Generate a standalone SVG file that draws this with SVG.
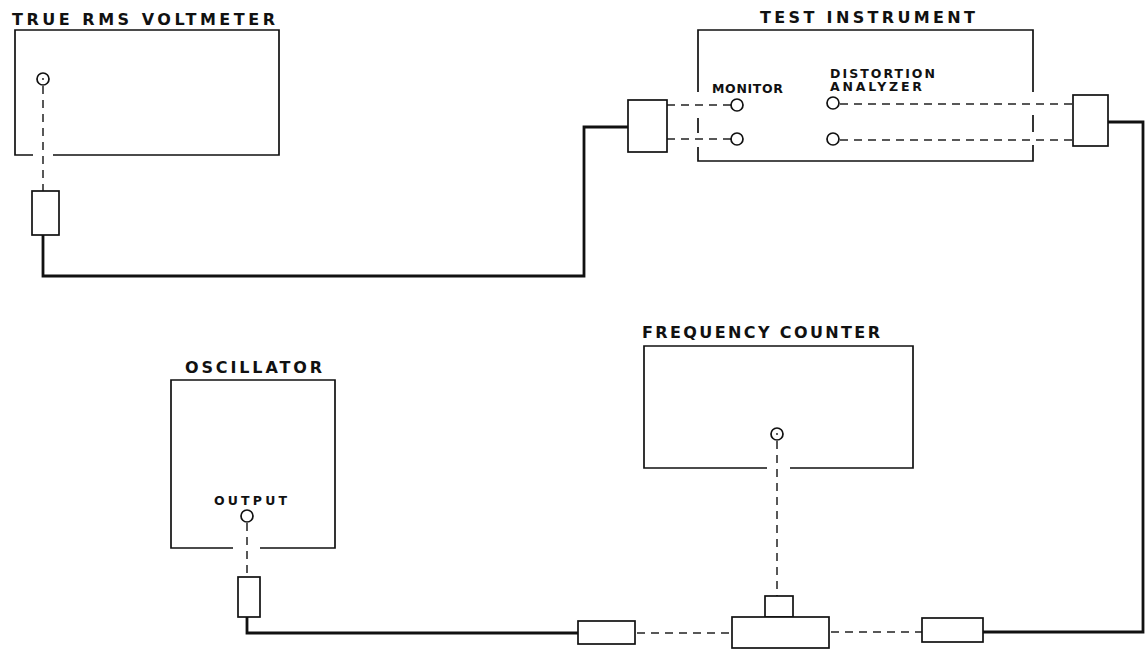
<svg xmlns="http://www.w3.org/2000/svg" width="1146" height="650" viewBox="0 0 1146 650">
<style>
.box{fill:none;stroke:#111;stroke-width:1.7}
.part{fill:#fff;stroke:#111;stroke-width:1.7}
.jack{fill:#fff;stroke:#111;stroke-width:1.7}
.cable{fill:none;stroke:#111;stroke-width:2.8}
.dash{fill:none;stroke:#222;stroke-width:1.5;stroke-dasharray:8 6}
.title{font-family:"DejaVu Sans","Liberation Sans",sans-serif;font-weight:bold;font-size:16px;fill:#111}
.lbl{font-family:"DejaVu Sans","Liberation Sans",sans-serif;font-weight:bold;font-size:12.5px;fill:#111}
</style>
<rect width="1146" height="650" fill="#fff"/>
<g id="connectors">
<path class="cable" d="M43,235 V276 H584 V127 H628"/>
<path class="cable" d="M1108,122 H1143 V632 H983"/>
<path class="cable" d="M247,617 V633 H578"/>
<path class="dash" d="M43,86 V191"/>
<path class="dash" d="M667,105 H731"/>
<path class="dash" d="M667,139 H731"/>
<path class="dash" d="M840,104 H1073"/>
<path class="dash" d="M840,140 H1073"/>
<path class="dash" d="M777,441 V596"/>
<path class="dash" d="M247,523 V577"/>
<path class="dash" d="M637,633 H732"/>
<path class="dash" d="M831,632 H922"/>
</g>
<g id="voltmeter">
<text class="title" x="12" y="25" textLength="263" lengthAdjust="spacing">TRUE RMS VOLTMETER</text>
<path class="box" d="M33,155 H15 V30 H279 V155 H53"/>
<circle class="jack" cx="43" cy="79" r="6"/>
<circle cx="43" cy="79" r="0.9" fill="#111"/>
</g>
<g id="voltmeter-plug"><rect class="part" x="32" y="191" width="27" height="44"/></g>
<g id="test-instrument">
<text class="title" x="760" y="23" textLength="215" lengthAdjust="spacing">TEST INSTRUMENT</text>
<path class="box" d="M698,92 V30 H1033 V92 M698,118 V133 M698,147 V161 H1033 V145 M1033,115 V132"/>
<text class="lbl" x="712" y="93" textLength="71" lengthAdjust="spacing">MONITOR</text>
<text class="lbl" x="830" y="78" textLength="105" lengthAdjust="spacing">DISTORTION</text>
<text class="lbl" x="830" y="91" textLength="92" lengthAdjust="spacing">ANALYZER</text>
<circle class="jack" cx="737" cy="105" r="6"/>
<circle class="jack" cx="737" cy="139" r="6"/>
<circle class="jack" cx="833" cy="103" r="6"/>
<circle class="jack" cx="833" cy="139" r="6"/>
</g>
<g id="left-adapter"><rect class="part" x="628" y="100" width="39" height="52"/></g>
<g id="right-adapter"><rect class="part" x="1073" y="95" width="35" height="51"/></g>
<g id="oscillator">
<text class="title" x="185" y="373" textLength="137" lengthAdjust="spacing">OSCILLATOR</text>
<path class="box" d="M233,548 H171 V380 H335 V548 H260"/>
<text class="lbl" x="214" y="505" textLength="73" lengthAdjust="spacing">OUTPUT</text>
<circle class="jack" cx="247" cy="516" r="6"/>
</g>
<g id="oscillator-plug"><rect class="part" x="238" y="577" width="22" height="40"/></g>
<g id="frequency-counter">
<text class="title" x="642" y="338" textLength="238" lengthAdjust="spacing">FREQUENCY COUNTER</text>
<path class="box" d="M767,468 H644 V346 H913 V468 H790"/>
<circle class="jack" cx="777" cy="434" r="6"/>
<circle cx="777" cy="434" r="0.9" fill="#111"/>
</g>
<g id="left-inline"><rect class="part" x="578" y="621" width="57" height="23"/></g>
<g id="tee">
<rect class="part" x="765" y="596" width="28" height="21"/>
<rect class="part" x="732" y="617" width="97" height="31"/>
</g>
<g id="right-inline"><rect class="part" x="922" y="618" width="61" height="24"/></g>
</svg>
